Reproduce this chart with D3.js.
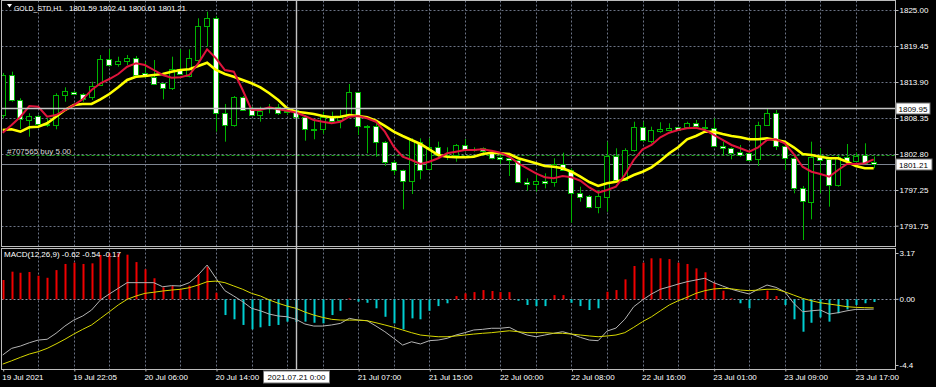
<!DOCTYPE html>
<html>
<head>
<meta charset="utf-8">
<script src="https://cdn.jsdelivr.net/npm/d3@7"></script>
<style>
  body { margin: 0; background: #000; }
  svg { display: block; font-family: "Liberation Sans", Arial, sans-serif; font-size: 8px; }
</style>
</head>
<body>
<svg id="chart" width="936" height="387"></svg>
<script>
// GOLD_STD H1 candles
const opens = [1808.81,1814.98,1811.13,1808.04,1808.66,1807.42,1807.27,1811.90,1812.40,1812.00,
  1811.63,1813.44,1817.45,1816.68,1817.03,1817.55,1815.24,1814.72,1813.70,1812.93,
  1815.90,1814.83,1817.29,1822.53,1823.72,1809.17,1807.27,1811.63,1809.69,1808.81,
  1809.89,1810.09,1809.28,1809.51,1808.46,1806.70,1806.61,1808.46,1808.04,1808.81,
  1812.31,1807.12,1807.12,1804.70,1801.61,1800.33,1798.68,1804.70,1800.44,1803.83,
  1802.65,1802.65,1804.19,1803.42,1803.68,1803.15,1802.38,1802.23,1801.88,1798.53,
  1798.17,1798.68,1798.53,1801.26,1800.33,1796.83,1796.33,1794.68,1796.22,1802.49,
  1798.79,1803.42,1806.92,1804.85,1806.35,1806.61,1806.92,1806.92,1807.53,1807.01,
  1806.76,1804.03,1803.68,1803.15,1803.00,1801.98,1807.27,1809.07,1804.03,1802.14,
  1797.51,1795.45,1802.38,1801.98,1798.02,1802.38,1801.77,1802.65,1801.59];
const highs = [1815.29,1815.49,1811.39,1809.07,1808.81,1808.35,1812.16,1813.08,1812.56,1812.20,
  1813.95,1818.06,1818.94,1817.80,1818.06,1817.91,1817.03,1817.29,1813.74,1817.80,
  1818.94,1818.94,1823.72,1824.74,1824.08,1810.51,1811.74,1811.74,1810.09,1810.09,
  1810.51,1810.51,1810.05,1810.00,1808.81,1808.04,1809.32,1809.32,1809.58,1813.59,
  1812.36,1807.27,1807.58,1804.80,1801.88,1800.40,1805.22,1805.22,1805.22,1804.70,
  1803.83,1804.34,1805.11,1803.83,1803.83,1803.42,1802.65,1802.65,1801.88,1799.05,
  1799.56,1799.82,1802.14,1803.00,1800.60,1797.76,1796.48,1797.25,1804.70,1803.68,
  1803.68,1807.78,1807.78,1807.01,1807.69,1807.53,1806.96,1807.78,1808.04,1808.04,
  1808.30,1804.70,1803.83,1804.19,1803.42,1807.78,1809.85,1809.58,1804.19,1802.38,
  1797.87,1804.70,1803.68,1802.14,1802.65,1804.34,1803.00,1804.45,1802.41];
const lows = [1808.35,1810.86,1806.65,1805.47,1807.12,1806.96,1806.61,1810.86,1811.90,1810.86,
  1811.13,1813.28,1816.26,1816.26,1816.52,1814.83,1814.52,1813.59,1811.23,1812.67,
  1814.98,1814.62,1816.98,1819.34,1806.24,1804.70,1807.01,1809.43,1808.66,1807.78,
  1809.07,1808.81,1808.81,1808.04,1804.85,1805.07,1805.88,1807.58,1806.76,1808.55,
  1805.73,1802.91,1802.38,1800.95,1799.56,1794.27,1796.63,1798.90,1800.33,1802.38,
  1801.88,1801.61,1803.15,1803.15,1802.80,1801.98,1801.26,1799.41,1798.48,1797.14,
  1796.99,1797.51,1797.76,1800.18,1792.21,1795.45,1794.43,1793.66,1793.90,1798.64,
  1798.64,1803.15,1804.70,1804.45,1806.08,1806.35,1806.35,1806.76,1806.76,1806.50,
  1803.88,1802.65,1801.98,1802.38,1801.88,1800.95,1807.12,1803.42,1800.33,1796.74,
  1789.54,1792.73,1796.74,1794.68,1797.76,1801.57,1801.57,1801.37,1800.61];
const closes = [1814.98,1811.13,1808.15,1808.66,1807.42,1807.27,1811.90,1812.56,1812.05,1811.28,
  1813.28,1817.45,1816.52,1817.14,1817.55,1814.98,1814.83,1813.70,1812.93,1815.86,
  1815.13,1817.55,1822.53,1823.72,1809.07,1807.27,1811.63,1809.69,1808.81,1809.43,
  1809.85,1809.23,1809.48,1808.46,1806.61,1806.61,1808.46,1807.78,1808.46,1812.31,
  1807.12,1807.01,1804.70,1801.61,1800.33,1798.68,1804.96,1800.44,1803.83,1802.65,
  1802.60,1804.19,1803.42,1803.37,1803.15,1802.29,1802.03,1801.88,1798.53,1798.28,
  1798.68,1798.44,1801.26,1800.33,1796.83,1796.22,1794.68,1796.33,1802.49,1798.79,
  1803.42,1806.92,1804.85,1806.50,1806.65,1806.85,1806.39,1807.53,1807.01,1806.89,
  1803.93,1803.68,1802.91,1802.65,1801.98,1807.27,1809.07,1804.03,1802.14,1797.51,
  1795.45,1802.38,1801.88,1798.02,1802.38,1801.77,1802.49,1801.46,1801.21];

// moving averages (red fast, yellow slow)
const fastMA = [1806.08,1807.27,1808.55,1810.20,1810.09,1808.55,1808.81,1809.58,1810.35,1811.23,
  1812.67,1813.70,1814.36,1815.13,1816.26,1816.78,1816.52,1815.75,1814.98,1814.56,
  1814.62,1814.98,1816.78,1818.94,1817.55,1815.75,1815.49,1812.67,1809.58,1809.58,
  1810.00,1809.69,1809.48,1809.20,1808.66,1808.04,1807.78,1807.53,1807.78,1808.55,
  1808.66,1808.30,1807.78,1806.24,1803.93,1802.38,1801.88,1801.26,1801.61,1802.14,
  1802.91,1803.15,1803.42,1803.42,1803.52,1803.31,1803.00,1802.38,1801.37,1800.60,
  1799.82,1799.21,1799.05,1799.41,1799.21,1798.68,1797.64,1796.83,1797.25,1797.76,
  1799.56,1801.88,1803.52,1804.19,1805.37,1806.08,1806.50,1806.76,1806.85,1806.50,
  1805.73,1804.96,1804.19,1803.68,1803.15,1803.83,1804.96,1805.07,1804.45,1802.80,
  1800.84,1800.07,1799.72,1799.30,1800.33,1801.26,1801.26,1801.37,1801.98];
const slowMA = [1806.50,1806.61,1806.24,1806.92,1807.01,1807.53,1808.55,1809.58,1810.35,1810.51,
  1810.51,1811.23,1812.05,1813.08,1814.21,1814.72,1814.83,1814.98,1815.13,1815.49,
  1815.75,1815.86,1816.37,1816.88,1815.75,1815.13,1814.72,1814.21,1813.70,1813.08,
  1812.16,1811.13,1809.85,1809.32,1809.17,1808.97,1808.66,1808.46,1808.55,1808.81,
  1808.66,1808.46,1807.93,1807.12,1806.24,1805.58,1804.96,1804.34,1803.52,1802.65,
  1802.38,1802.29,1802.29,1802.38,1802.80,1803.00,1802.91,1802.80,1802.14,1801.77,
  1801.37,1800.95,1800.84,1800.60,1800.07,1799.30,1798.48,1797.87,1798.28,1798.53,
  1798.90,1799.56,1800.07,1800.75,1801.77,1802.91,1803.83,1805.07,1805.58,1806.24,
  1806.24,1805.88,1805.58,1805.37,1805.07,1805.07,1805.22,1804.96,1804.70,1803.83,
  1802.80,1802.65,1802.38,1802.14,1802.14,1801.61,1800.95,1800.60,1800.60];

// MACD(12,26,9) sub window
const macdHist = [1.23,1.76,1.69,1.74,1.50,1.37,1.86,2.25,2.33,2.25,
  2.29,2.82,2.93,2.93,2.84,2.37,1.91,1.34,0.76,0.85,
  0.64,0.87,1.59,2.07,0.42,-1.00,-1.27,-1.63,-1.91,-1.78,
  -1.70,-1.63,-1.42,-1.44,-1.42,-1.49,-1.53,-1.00,-0.73,0.06,
  -0.15,-0.22,-0.57,-1.11,-1.53,-1.91,-1.21,-1.27,-0.73,-0.43,
  -0.25,0.21,0.38,0.46,0.59,0.53,0.46,0.46,-0.09,-0.36,
  -0.43,-0.43,0.27,0.27,-0.22,-0.43,-0.68,-0.57,0.48,0.59,
  1.27,2.12,2.33,2.61,2.61,2.56,2.33,2.25,1.97,1.72,
  1.06,0.55,0.06,-0.25,-0.57,-0.05,0.55,0.21,-0.36,-1.27,
  -2.06,-1.49,-1.15,-1.42,-0.89,-0.64,-0.36,-0.25,-0.17];
const macdMain = [-3.54,-3.12,-2.97,-2.76,-2.59,-2.54,-2.16,-1.70,-1.32,-1.06,
  -0.68,-0.04,0.34,0.70,1.06,1.06,1.06,1.06,0.80,0.87,
  0.85,1.06,1.55,2.18,1.34,0.55,0.21,-0.15,-0.57,-0.73,
  -0.94,-1.06,-1.11,-1.27,-1.57,-1.70,-1.70,-1.63,-1.53,-1.21,
  -1.32,-1.36,-1.70,-2.06,-2.48,-2.91,-2.70,-2.84,-2.63,-2.59,
  -2.48,-2.27,-2.12,-1.95,-1.91,-1.84,-1.84,-1.78,-2.06,-2.27,
  -2.38,-2.27,-2.16,-2.06,-2.21,-2.42,-2.59,-2.63,-2.02,-1.83,
  -1.27,-0.47,-0.04,0.34,0.64,0.80,0.97,1.12,1.23,1.34,
  1.06,0.85,0.64,0.48,0.34,0.64,0.91,0.76,0.48,-0.25,
  -0.79,-0.73,-0.68,-0.94,-0.85,-0.73,-0.64,-0.64,-0.62];
const macdSignal = [-4.12,-3.91,-3.69,-3.48,-3.33,-3.12,-2.84,-2.54,-2.21,-1.91,
  -1.63,-1.21,-0.79,-0.36,0.00,0.21,0.38,0.45,0.53,0.59,
  0.64,0.74,0.91,1.12,1.16,1.06,0.85,0.64,0.38,0.21,
  -0.04,-0.25,-0.43,-0.57,-0.81,-1.00,-1.15,-1.27,-1.32,-1.32,
  -1.32,-1.36,-1.49,-1.63,-1.78,-1.95,-2.12,-2.27,-2.33,-2.38,
  -2.38,-2.33,-2.27,-2.21,-2.16,-2.12,-2.06,-2.00,-2.06,-2.12,
  -2.12,-2.12,-2.16,-2.16,-2.21,-2.27,-2.33,-2.38,-2.33,-2.27,
  -2.12,-1.78,-1.42,-1.11,-0.73,-0.36,-0.09,0.13,0.38,0.55,
  0.66,0.70,0.67,0.59,0.55,0.59,0.64,0.64,0.48,0.27,
  0.06,-0.09,-0.22,-0.30,-0.38,-0.47,-0.51,-0.53,-0.54];

const priceTicks = [1825.00, 1819.45, 1813.90, 1808.35, 1802.80, 1797.25, 1791.75];
const macdTicks = [3.17, 0.00, -4.4];
const labelBars = [0, 8, 16, 24, 40, 48, 56, 64, 72, 80, 88, 96];
const labelTexts = ["19 Jul 2021", "19 Jul 22:05", "20 Jul 06:00", "20 Jul 14:00", "21 Jul 07:00",
  "21 Jul 15:00", "22 Jul 00:00", "22 Jul 08:00", "22 Jul 16:00", "23 Jul 01:00", "23 Jul 09:00", "23 Jul 17:00"];

const bidPrice = 1801.21;
const orderPrice = 1802.70;
const orderText = "#707565 buy 5.00";
const crossBar = 33;
const crossPrice = 1809.95;
const crossTime = "2021.07.21 0:00";

const green = "#00b400";
const gridColor = "#6b7385";
const frameColor = "#bcbcbc";

const width = 936, height = 387;
const left = 1.5, right = 895.5;
const mainTop = 0.5, mainBottom = 246.5;
const subTop = 248.5, subBottom = 369.5;

const n = closes.length;
const idx = d3.range(n);

const x = d3.scaleLinear().domain([0, n - 1]).range([2.7, 2.7 + (n - 1) * 8.8875]);
const y = d3.scaleLinear().domain([1791.70, 1825.00]).range([226, 10]);
const ym = d3.scaleLinear().domain([-4.4, 3.17]).range([368.5, 249.5]);
const px = i => Math.round(x(i)) + 0.5;
const crisp = v => Math.round(v) + 0.5;

const svg = d3.select("#chart");
svg.append("rect").attr("width", width).attr("height", height).attr("fill", "#000");

const defs = svg.append("defs");
defs.append("clipPath").attr("id", "clipMain").append("rect")
  .attr("x", 2).attr("y", 1).attr("width", right - 2.5).attr("height", mainBottom - 1.5);
defs.append("clipPath").attr("id", "clipSub").append("rect")
  .attr("x", 2).attr("y", subTop + 0.5).attr("width", right - 2.5).attr("height", subBottom - subTop - 1);

const gMain = svg.append("g").attr("clip-path", "url(#clipMain)");
const gSub = svg.append("g").attr("clip-path", "url(#clipSub)");

// grid
const gridBars = d3.range(4, n, 4);
gMain.selectAll(".vgrid").data(gridBars).join("line")
  .attr("x1", px).attr("x2", px).attr("y1", mainTop).attr("y2", mainBottom)
  .attr("stroke", gridColor).attr("stroke-dasharray", "2,2");
gMain.selectAll(".hgrid").data(priceTicks).join("line")
  .attr("x1", left).attr("x2", right)
  .attr("y1", d => crisp(y(d))).attr("y2", d => crisp(y(d)))
  .attr("stroke", gridColor).attr("stroke-dasharray", "2,2");
gSub.selectAll(".vgrid").data(gridBars).join("line")
  .attr("x1", px).attr("x2", px).attr("y1", subTop).attr("y2", subBottom)
  .attr("stroke", gridColor).attr("stroke-dasharray", "2,2");
gSub.append("line")
  .attr("x1", left).attr("x2", right)
  .attr("y1", crisp(ym(0))).attr("y2", crisp(ym(0)))
  .attr("stroke", "#8a92a4").attr("stroke-dasharray", "2,2");

// order and bid lines
gMain.append("line")
  .attr("x1", left + 5).attr("x2", right)
  .attr("y1", crisp(y(orderPrice))).attr("y2", crisp(y(orderPrice)))
  .attr("stroke", "#22a822").attr("stroke-dasharray", "3,2");
gMain.append("line")
  .attr("x1", left).attr("x2", right)
  .attr("y1", crisp(y(bidPrice))).attr("y2", crisp(y(bidPrice)))
  .attr("stroke", "#7d8490");

// candles
const candle = gMain.selectAll(".candle").data(idx).join("g");
candle.append("line")
  .attr("x1", px).attr("x2", px)
  .attr("y1", i => y(highs[i])).attr("y2", i => y(lows[i]))
  .attr("stroke", green);
candle.append("rect")
  .attr("x", i => px(i) - 3)
  .attr("y", i => crisp(y(Math.max(opens[i], closes[i]))))
  .attr("width", 5)
  .attr("height", i => Math.max(0.01, Math.round(Math.abs(y(opens[i]) - y(closes[i])))))
  .attr("fill", i => closes[i] > opens[i] ? "#000" : "#fff")
  .attr("stroke", green);

// moving averages
const maLine = arr => d3.line().x(i => x(i)).y(i => y(arr[i]))(idx);
gMain.append("path").attr("d", maLine(slowMA))
  .attr("fill", "none").attr("stroke", "#ffff00").attr("stroke-width", 2.6);
gMain.append("path").attr("d", maLine(fastMA))
  .attr("fill", "none").attr("stroke", "#e0143c").attr("stroke-width", 2);

// MACD histogram and lines
gSub.selectAll(".hist").data(idx).join("line")
  .attr("x1", px).attr("x2", px)
  .attr("y1", ym(0)).attr("y2", i => ym(macdHist[i]))
  .attr("stroke", i => macdHist[i] >= 0 ? "#f00000" : "#00ced1")
  .attr("stroke-width", 2);
gSub.append("path")
  .attr("d", d3.line().x(i => x(i)).y(i => ym(macdMain[i]))(idx))
  .attr("fill", "none").attr("stroke", "#b4b4b4").attr("stroke-width", 1);
gSub.append("path")
  .attr("d", d3.line().x(i => x(i)).y(i => ym(macdSignal[i]))(idx))
  .attr("fill", "none").attr("stroke", "#d8d800").attr("stroke-width", 1);

// panel frames
svg.append("rect").attr("x", left).attr("y", mainTop).attr("width", right - left).attr("height", mainBottom - mainTop)
  .attr("fill", "none").attr("stroke", frameColor);
svg.append("rect").attr("x", left).attr("y", subTop).attr("width", right - left).attr("height", subBottom - subTop)
  .attr("fill", "none").attr("stroke", frameColor);

// crosshair
svg.append("line")
  .attr("x1", px(crossBar)).attr("x2", px(crossBar)).attr("y1", 0).attr("y2", subBottom)
  .attr("stroke", "#c4c4c4").attr("stroke-width", 1.4);
svg.append("line")
  .attr("x1", left).attr("x2", right).attr("y1", crisp(y(crossPrice))).attr("y2", crisp(y(crossPrice)))
  .attr("stroke", "#c4c4c4").attr("stroke-width", 1.4);

// price axis
const yAxis = svg.append("g")
  .attr("transform", `translate(${right},0)`)
  .call(d3.axisRight(y).tickValues(priceTicks).tickFormat(d3.format(".2f")).tickSize(3).tickPadding(1));
yAxis.select(".domain").remove();
yAxis.selectAll("line").attr("stroke", frameColor);
yAxis.selectAll("text").attr("fill", "#fff").attr("font-size", 8).attr("font-family", "Liberation Sans, Arial, sans-serif");

const clampSub = v => Math.min(Math.max(v, 253.5), 365.5);
const subAxis = svg.append("g")
  .attr("transform", `translate(${right},0)`)
  .call(d3.axisRight(ym).tickValues(macdTicks)
    .tickFormat(d => d === -4.4 ? "-4.4" : d3.format(".2f")(d)).tickSize(3).tickPadding(1));
subAxis.select(".domain").remove();
subAxis.selectAll(".tick").attr("transform", d => `translate(0,${clampSub(ym(d))})`);
subAxis.selectAll("line").attr("stroke", frameColor);
subAxis.selectAll("text").attr("fill", "#fff").attr("font-size", 8).attr("font-family", "Liberation Sans, Arial, sans-serif");

// time axis
const xAxis = svg.append("g")
  .attr("transform", `translate(0,${subBottom})`)
  .call(d3.axisBottom(x).tickValues(labelBars)
    .tickFormat(d => labelTexts[labelBars.indexOf(d)]).tickSize(2).tickPadding(3));
xAxis.select(".domain").remove();
xAxis.selectAll("line").attr("stroke", frameColor).attr("transform", "translate(0.5,0)");
xAxis.selectAll("text").attr("fill", "#fff").attr("text-anchor", "start").attr("dx", -1)
  .attr("font-size", 8).attr("font-family", "Liberation Sans, Arial, sans-serif");

// crosshair labels
const priceBox = svg.append("g").attr("transform", `translate(896,${crisp(y(crossPrice)) - 5.5})`);
priceBox.append("rect").attr("width", 34).attr("height", 11).attr("fill", "#fff").attr("stroke", "#707070");
priceBox.append("text").attr("x", 2.5).attr("y", 8.5).attr("fill", "#000").text(crossPrice.toFixed(2));

const bidBox = svg.append("g").attr("transform", `translate(896,${crisp(y(bidPrice)) - 5.5})`);
bidBox.append("rect").attr("width", 36).attr("height", 11).attr("fill", "#fff").attr("stroke", "#707070");
bidBox.append("text").attr("x", 3).attr("y", 8.5).attr("fill", "#000").text(bidPrice.toFixed(2));

const timeBox = svg.append("g").attr("transform", `translate(${px(crossBar) - 33},371)`);
timeBox.append("rect").attr("width", 66).attr("height", 12).attr("fill", "#fff").attr("stroke", "#707070");
timeBox.append("text").attr("x", 33).attr("y", 9).attr("text-anchor", "middle").attr("fill", "#000").text(crossTime);

// window texts
svg.append("path").attr("d", "M7,4L12,4L9.5,7.5Z").attr("fill", "#fff");
const title = svg.append("text").attr("y", 10.5).attr("fill", "#fff");
title.append("tspan").attr("x", 14).attr("textLength", 48).attr("lengthAdjust", "spacingAndGlyphs")
  .text("GOLD_STD,H1");
title.append("tspan").attr("x", 69).attr("textLength", 117).attr("lengthAdjust", "spacing").text(
  [opens[n - 1], highs[n - 1], lows[n - 1], closes[n - 1]].map(d => d.toFixed(2)).join(" "));

svg.append("text").attr("x", 4).attr("y", 257).attr("fill", "#fff")
  .text(`MACD(12,26,9) ${macdMain[n - 1].toFixed(2)} ${macdSignal[n - 1].toFixed(2)} ${macdHist[n - 1].toFixed(2)}`);

svg.append("text").attr("x", 7).attr("y", 153.5).attr("fill", "#d8d8d8").text(orderText);
</script>
</body>
</html>
